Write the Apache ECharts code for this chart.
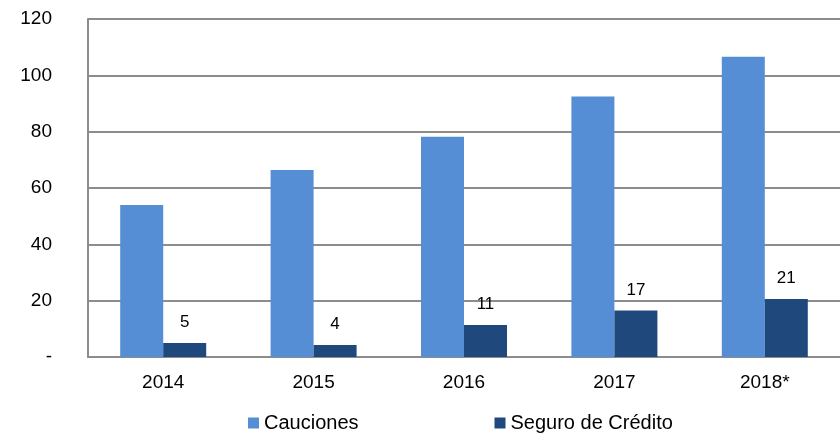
<!DOCTYPE html>
<html>
<head>
<meta charset="utf-8">
<script src="https://cdn.jsdelivr.net/npm/echarts@6/dist/echarts.min.js"></script>
<style>
  html, body { margin: 0; padding: 0; background: #fff; }
  #chart { width: 840px; height: 433px; }
</style>
</head>
<body>
<div id="chart"></div>
<script>
const years = ["2014", "2015", "2016", "2017", "2018*"];
const cauciones = [54.0, 66.4, 78.2, 92.5, 106.6];
const seguroCredito = [5.0, 4.3, 11.4, 16.5, 20.6];
const yTicks = [0, 20, 40, 60, 80, 100, 120];

const chart = echarts.init(document.getElementById("chart"));

const option = {
  animation: false,
  textStyle: { fontFamily: "Liberation Sans, Arial, sans-serif" },
  grid: { left: 88, right: 0, top: 19, bottom: 76 },
  legend: {
    top: 408,
    left: 243,
    itemGap: 136,
    itemWidth: 11,
    itemHeight: 11,
    icon: "rect",
    textStyle: { fontSize: 20, color: "#000" },
    data: ["Cauciones", "Seguro de Crédito"],
  },
  xAxis: {
    type: "category",
    data: years,
    axisLine: { lineStyle: { color: "#8c8c8c", width: 2 } },
    axisTick: { show: false },
    axisLabel: { fontSize: 19, color: "#000", margin: 16 },
  },
  yAxis: {
    type: "value",
    min: yTicks[0],
    max: yTicks[yTicks.length - 1],
    interval: 20,
    axisLine: { show: true, lineStyle: { color: "#8c8c8c", width: 2 } },
    axisTick: { show: false },
    splitLine: { lineStyle: { color: "#8c8c8c", width: 2 } },
    axisLabel: {
      fontSize: 19,
      color: "#000",
      margin: 36,
      formatter: (v) => (v === 0 ? "-" : String(v)),
    },
  },
  series: [
    {
      name: "Cauciones",
      type: "bar",
      data: cauciones,
      barWidth: 43,
      barGap: "0%",
      itemStyle: { color: "#558ed5" },
    },
    {
      name: "Seguro de Crédito",
      type: "bar",
      data: seguroCredito,
      barWidth: 43,
      itemStyle: { color: "#1f497d" },
      label: {
        show: true,
        position: "top",
        distance: 12,
        fontSize: 17,
        color: "#000",
        formatter: (p) => Math.round(p.value),
      },
    },
  ],
};

chart.setOption(option);
</script>
</body>
</html>
